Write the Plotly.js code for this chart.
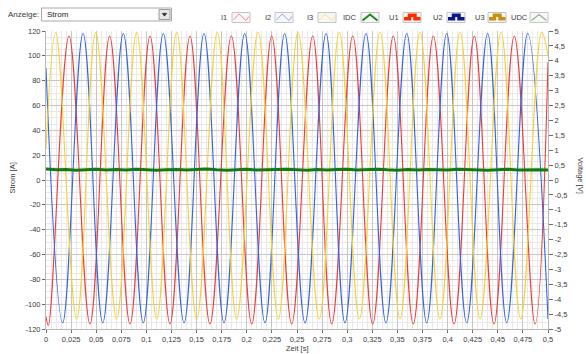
<!DOCTYPE html>
<html><head><meta charset="utf-8">
<script src="https://cdn.plot.ly/plotly-3.0.1.min.js"></script>
<style>html,body{margin:0;padding:0;background:#fff;}#chart{width:586px;height:354px;}</style>
</head><body><div id="chart"></div>
<script>
// ---- data (time in s, current in A) ----
const I1_t = [0, 0.0023, 0.0229, 0.0438, 0.0634, 0.0837, 0.1036, 0.1235, 0.1434, 0.1633, 0.1846, 0.2049, 0.2248, 0.2447, 0.2656, 0.2846, 0.3055, 0.3254, 0.3459, 0.3658, 0.3858, 0.4064, 0.4266, 0.4462, 0.4664, 0.4871, 0.5];
const I1_v = [-110, -117, 116, -116, 116, -116, 116, -116, 116, -116, 116, -116, 116, -116, 116, -116, 116, -116, 116, -116, 116, -116, 116, -116, 116, -116, 95];

const I2_t = [0, 0.0166, 0.0369, 0.0565, 0.0770, 0.0969, 0.1168, 0.1375, 0.1574, 0.1773, 0.1979, 0.2181, 0.2377, 0.2580, 0.2789, 0.2978, 0.3187, 0.3386, 0.3593, 0.3792, 0.3991, 0.4190, 0.4399, 0.4589, 0.4798, 0.5];
const I2_v = [90, -115, 118, -115, 118, -115, 118, -115, 118, -115, 118, -115, 118, -115, 118, -115, 118, -115, 118, -115, 118, -115, 118, -115, 118, -112];

const I3_t = [0, 0.0097, 0.0306, 0.0495, 0.0704, 0.0903, 0.1103, 0.1302, 0.1501, 0.1706, 0.1899, 0.2112, 0.2314, 0.2510, 0.2722, 0.2921, 0.3121, 0.3327, 0.3526, 0.3725, 0.3924, 0.4124, 0.4323, 0.4532, 0.4728, 0.4937, 0.5];
const I3_v = [25, 119, -112, 119, -112, 119, -112, 119, -112, 119, -112, 119, -112, 119, -112, 119, -112, 119, -112, 119, -112, 119, -112, 119, -112, 119, 100];

const IDC_t = [0, 0.01, 0.02, 0.03, 0.04, 0.05, 0.06, 0.07, 0.08, 0.09, 0.1, 0.11, 0.12, 0.13, 0.14, 0.15, 0.16, 0.17, 0.18, 0.19, 0.2, 0.21, 0.22, 0.23, 0.24, 0.25, 0.26, 0.27, 0.28, 0.29, 0.3, 0.31, 0.32, 0.33, 0.34, 0.35, 0.36, 0.37, 0.38, 0.39, 0.4, 0.41, 0.42, 0.43, 0.44, 0.45, 0.46, 0.47, 0.48, 0.49, 0.5];
const IDC_v = [8.8, 8.2, 8.5, 7.9, 8.3, 8.7, 8.1, 8.4, 8.0, 8.6, 8.3, 7.8, 8.2, 8.5, 8.1, 8.4, 8.8, 8.2, 7.9, 8.3, 8.6, 8.0, 8.4, 8.2, 8.7, 8.3, 7.9, 8.5, 8.1, 8.4, 8.6, 8.0, 8.3, 8.7, 8.2, 7.9, 8.4, 8.1, 8.5, 8.3, 8.0, 8.6, 8.2, 8.4, 7.9, 8.3, 8.6, 8.1, 8.4, 8.2, 8.0];

const xTickVals = [0, 0.025, 0.05, 0.075, 0.1, 0.125, 0.15, 0.175, 0.2, 0.225, 0.25, 0.275, 0.3, 0.325, 0.35, 0.375, 0.4, 0.425, 0.45, 0.475, 0.5];
const xTickText = ['0', '0,025', '0,05', '0,075', '0,1', '0,125', '0,15', '0,175', '0,2', '0,225', '0,25', '0,275', '0,3', '0,325', '0,35', '0,375', '0,4', '0,425', '0,45', '0,475', '0,5'];
const yTickVals = [-120, -100, -80, -60, -40, -20, 0, 20, 40, 60, 80, 100, 120];
const yTickText = ['-120', '-100', '-80', '-60', '-40', '-20', '0', '20', '40', '60', '80', '100', '120'];
const y2TickVals = [-5, -4.5, -4, -3.5, -3, -2.5, -2, -1.5, -1, -0.5, 0, 0.5, 1, 1.5, 2, 2.5, 3, 3.5, 4, 4.5, 5];
const y2TickText = ['-5', '-4,5', '-4', '-3,5', '-3', '-2,5', '-2', '-1,5', '-1', '-0,5', '0', '0,5', '1', '1,5', '2', '2,5', '3', '3,5', '4', '4,5', '5'];

const legendNames = ['I1', 'I2', 'I3', 'IDC', 'U1', 'U2', 'U3', 'UDC'];
const selectorLabel = 'Anzeige:';
const selectorValue = 'Strom';

// ---- styles / layout ----
const FONT = 'Liberation Sans, Arial, sans-serif';
const TXT = '#3a3a3a';
const L = 46, R = 548, T = 31, B = 329;
const PX = x => (x - L) / (R - L);
const PY = y => (B - y) / (B - T);
const P = (x, y) => PX(x).toFixed(5) + ',' + PY(y).toFixed(5);

const lineColors = {I1: '#f03a3a', I2: '#3563e0', I3: '#f7d132', IDC: '#127a12'};

const traces = [
  {x: I1_t, y: I1_v, name: 'I1', mode: 'lines', line: {color: lineColors.I1, width: 1.1, shape: 'spline', smoothing: 1.1}},
  {x: I2_t, y: I2_v, name: 'I2', mode: 'lines', line: {color: lineColors.I2, width: 1.1, shape: 'spline', smoothing: 1.1}},
  {x: I3_t, y: I3_v, name: 'I3', mode: 'lines', line: {color: lineColors.I3, width: 1.1, shape: 'spline', smoothing: 1.1}},
  {x: IDC_t, y: IDC_v, name: 'IDC', mode: 'lines', line: {color: lineColors.IDC, width: 3}},
  {x: [], y: [], name: 'U1', yaxis: 'y2', mode: 'lines'},
  {x: [], y: [], name: 'U2', yaxis: 'y2', mode: 'lines'},
  {x: [], y: [], name: 'U3', yaxis: 'y2', mode: 'lines'},
  {x: [], y: [], name: 'UDC', yaxis: 'y2', mode: 'lines'}
];

// legend decorations (LabVIEW style: label, then icon box)
const legendLabelX = [223.5, 268, 309.5, 350, 394, 437.5, 480, 519.5];
const legendIconX = [232, 275, 318, 361, 403, 447, 488, 530];
const legendIconStyle = [
  {kind: 'wave', color: '#ff8a8a', w: 1},
  {kind: 'wave', color: '#8ea8f5', w: 1},
  {kind: 'wave', color: '#ffe28a', w: 1},
  {kind: 'peak', color: '#1b8a1b', w: 2},
  {kind: 'step', color: '#ff2a00', w: 3.5},
  {kind: 'step', color: '#0a1a8c', w: 3.5},
  {kind: 'step', color: '#c8900e', w: 3.5},
  {kind: 'peak', color: '#8fb08f', w: 1.2}
];

const shapes = [];
const annotations = [];
legendNames.forEach((nm, i) => {
  const x0 = legendIconX[i], st = legendIconStyle[i];
  shapes.push({type: 'rect', xref: 'paper', yref: 'paper', x0: PX(x0), x1: PX(x0 + 18), y0: PY(22.5), y1: PY(12.5),
    fillcolor: '#f7f7f7', line: {color: '#c4c4c4', width: 1}});
  let pts;
  if (st.kind === 'wave') pts = [[x0 + 1.5, 20], [x0 + 7, 14], [x0 + 14, 20.5], [x0 + 17, 16.5]];
  else if (st.kind === 'peak') pts = [[x0 + 1.5, 20.5], [x0 + 9, 14.5], [x0 + 16.5, 20.5]];
  else pts = [[x0 + 1, 18.8], [x0 + 6.5, 18.8], [x0 + 6.5, 15.2], [x0 + 12, 15.2], [x0 + 12, 18.8], [x0 + 17.5, 18.8]];
  shapes.push({type: 'path', xref: 'paper', yref: 'paper', path: 'M' + pts.map(p => P(p[0], p[1])).join(' L'),
    line: {color: st.color, width: st.w}});
  annotations.push({xref: 'paper', yref: 'paper', x: PX(legendLabelX[i]), y: PY(17.2), text: nm, showarrow: false,
    xanchor: 'center', yanchor: 'middle', font: {family: FONT, size: 7.5, color: TXT}});
});

// selector ("Anzeige: Strom" dropdown look)
shapes.push({type: 'rect', xref: 'paper', yref: 'paper', x0: PX(41.5), x1: PX(171.5), y0: PY(21), y1: PY(8),
  fillcolor: '#ffffff', line: {color: '#a9a9a9', width: 1}});
shapes.push({type: 'rect', xref: 'paper', yref: 'paper', x0: PX(159), x1: PX(170), y0: PY(19.5), y1: PY(9.5),
  fillcolor: '#e6e6e6', line: {color: '#9a9a9a', width: 1}});
shapes.push({type: 'path', xref: 'paper', yref: 'paper', path: 'M' + P(162.2, 13.3) + ' L' + P(166.8, 13.3) + ' L' + P(164.5, 16.2) + ' Z',
  fillcolor: '#222', line: {color: '#222', width: 0.5}});
annotations.push({xref: 'paper', yref: 'paper', x: PX(40.5), y: PY(14.5), text: selectorLabel, showarrow: false,
  xanchor: 'right', yanchor: 'middle', font: {family: FONT, size: 8, color: TXT}});
annotations.push({xref: 'paper', yref: 'paper', x: PX(44.5), y: PY(14.5), text: selectorValue, showarrow: false,
  xanchor: 'left', yanchor: 'middle', font: {family: FONT, size: 8, color: '#222'}});

// axis titles
annotations.push({xref: 'paper', yref: 'paper', x: PX(11.5), y: PY(178), text: 'Strom [A]', textangle: -90, showarrow: false,
  xanchor: 'center', yanchor: 'middle', font: {family: FONT, size: 7.5, color: TXT}});
annotations.push({xref: 'paper', yref: 'paper', x: PX(580), y: PY(175.5), text: 'Voltage [V]', textangle: 90, showarrow: false,
  xanchor: 'center', yanchor: 'middle', font: {family: FONT, size: 7.5, color: TXT}});
annotations.push({xref: 'paper', yref: 'paper', x: PX(297.5), y: PY(348.5), text: 'Zeit [s]', showarrow: false,
  xanchor: 'center', yanchor: 'middle', font: {family: FONT, size: 7.5, color: TXT}});

const tickFont = {family: FONT, size: 7.5, color: TXT};
const layout = {
  width: 586, height: 354,
  margin: {l: L, r: 586 - R, t: T, b: 354 - B, pad: 0},
  paper_bgcolor: '#ffffff', plot_bgcolor: '#ffffff',
  showlegend: false,
  font: {family: FONT, size: 7.5, color: TXT},
  xaxis: {range: [0, 0.5], tickmode: 'array', tickvals: xTickVals, ticktext: xTickText, tickfont: tickFont,
    ticks: 'outside', ticklen: 3, tickcolor: '#6a6a6a', tickwidth: 1,
    showgrid: true, gridcolor: '#c6c6c6', gridwidth: 1, zeroline: false,
    showline: true, linecolor: '#b8b8b8', linewidth: 1,
    minor: {dtick: 0.005, tick0: 0, showgrid: true, gridcolor: '#e9e9e9', gridwidth: 1, ticklen: 0}},
  yaxis: {range: [-120, 120], tickmode: 'array', tickvals: yTickVals, ticktext: yTickText, tickfont: tickFont,
    ticks: 'outside', ticklen: 3, tickcolor: '#6a6a6a', tickwidth: 1,
    showgrid: true, gridcolor: '#c6c6c6', gridwidth: 1, zeroline: false,
    showline: true, linecolor: '#b8b8b8', linewidth: 1,
    minor: {dtick: 5, tick0: 0, showgrid: true, gridcolor: '#e9e9e9', gridwidth: 1, ticklen: 0}},
  yaxis2: {range: [-5, 5], overlaying: 'y', side: 'right', tickmode: 'array', tickvals: y2TickVals, ticktext: y2TickText,
    tickfont: tickFont, ticks: 'outside', ticklen: 4, tickcolor: '#6a6a6a', tickwidth: 1,
    showgrid: false, zeroline: false, showline: true, linecolor: '#b8b8b8', linewidth: 1},
  shapes: shapes,
  annotations: annotations
};

Plotly.newPlot('chart', traces, layout, {staticPlot: true, displayModeBar: false});
</script>
</body></html>
